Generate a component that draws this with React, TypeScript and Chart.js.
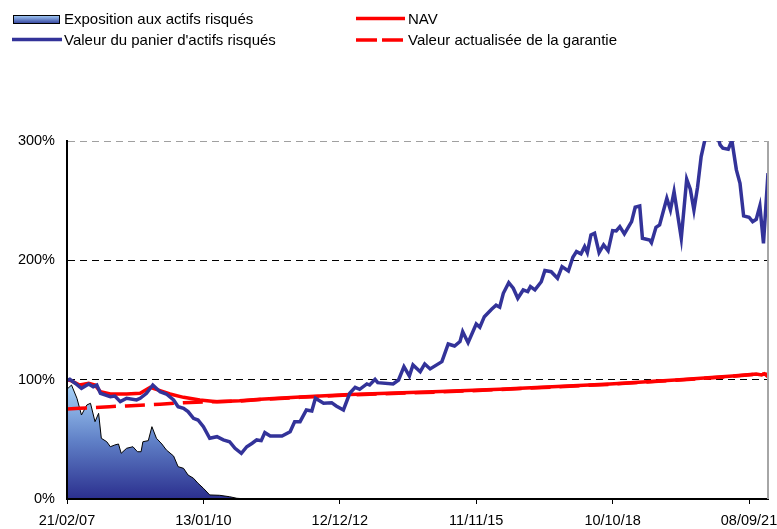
import React, { useEffect, useRef } from 'react';
import { Chart, registerables } from 'chart.js';

Chart.register(...registerables);

const FONT = "'Liberation Sans', Arial, sans-serif";

// x axis is in weeks from 21/02/07
const xTickValues = [0, 151, 302, 453, 604, 755];
const xTickLabels = ['21/02/07', '13/01/10', '12/12/12', '11/11/15', '10/10/18', '08/09/21'];
const xMax = 776;

const basketWeeks = [0, 3, 9, 16, 24, 29, 33, 37, 48, 53, 59, 66, 77, 81, 88, 95, 103, 110, 118, 123, 129, 134, 140, 145, 151, 158, 166, 173, 180, 186, 193, 199, 205, 210, 215, 219, 225, 238, 247, 252, 258, 265, 271, 275, 284, 293, 298, 306, 313, 319, 324, 332, 335, 341, 344, 361, 367, 373, 379, 383, 391, 396, 402, 415, 422, 429, 435, 438, 444, 453, 457, 462, 470, 475, 479, 483, 489, 494, 499, 505, 510, 513, 518, 525, 529, 536, 543, 548, 555, 560, 564, 569, 573, 576, 580, 584, 589, 594, 599, 604, 608, 612, 617, 625, 629, 634, 637, 645, 647, 652, 656, 664, 668, 672, 680, 686, 690, 694, 698, 702, 706, 711, 718, 723, 726, 732, 736, 741, 745, 749, 755, 759, 763, 767, 771, 776];
const basketValues = [99.5, 100.3, 97, 92.8, 96.4, 94.1, 95.5, 88.6, 85.8, 86.3, 81.6, 84.4, 83, 84.4, 88.6, 95.5, 89.9, 88, 83, 77.4, 76, 73.2, 67.6, 66.2, 60.6, 50.9, 52.2, 49.5, 48, 42.5, 38.3, 43.8, 46.7, 49.5, 48.9, 55.6, 52.8, 52.8, 56.4, 64.8, 64.8, 74.6, 73.8, 84.4, 80.2, 80.7, 78, 74.6, 88.6, 93.6, 91.9, 96.4, 95.5, 100.3, 97.5, 96.4, 99.7, 110.9, 103.1, 112.3, 106.7, 113.2, 109, 115.1, 129.9, 128.2, 131.9, 140.2, 131, 146.7, 143.9, 152.8, 159, 162.4, 160.7, 172.4, 181.3, 176.6, 168.2, 175.2, 173.8, 178, 175.2, 182.1, 191.4, 190.5, 185, 194.7, 191.1, 202.6, 207.3, 205.4, 211.5, 206.5, 221.3, 222.7, 206.5, 212.9, 208.1, 224.9, 224.6, 228.2, 222.1, 232.4, 244.5, 245.6, 218.5, 217.1, 214.8, 227.7, 229.7, 252, 242.2, 257.6, 218.5, 268, 259.6, 242.2, 261.3, 286.9, 300.5, 312, 310, 296.7, 294, 293.1, 300.5, 275.8, 264.6, 237.2, 236.1, 232.4, 234.4, 245.6, 214.3, 273];

const navWeeks = [0, 5, 14, 24, 31, 37, 48, 66, 81, 92, 103, 114, 129, 147, 166, 191, 214, 258, 313, 413, 479, 601, 678, 737, 763, 769, 772, 776];
const navValues = [100, 99, 95.5, 97, 95.5, 90, 88, 88, 88.6, 93.6, 90.8, 88, 85.2, 83, 81.6, 82.4, 83.6, 85.5, 87.5, 90, 92, 96.4, 100, 103.1, 104.8, 104, 105, 102.5];

const guaranteeWeeks = [0, 14, 47, 66, 103, 129, 158, 191, 214, 258, 313, 413, 479, 601, 678, 737, 763, 776];
const guaranteeValues = [75.5, 76, 77.4, 78, 79.4, 80.7, 81.4, 82.1, 83.3, 85.2, 87.2, 89.7, 91.7, 96.1, 99.7, 102.8, 104.5, 104.5];

const exposureWeeks = [0, 5, 11, 16, 22, 26, 31, 35, 38, 44, 48, 53, 57, 60, 66, 73, 78, 82, 84, 90, 94, 99, 105, 110, 118, 123, 129, 134, 140, 145, 151, 158, 169, 180, 188, 200, 776];
const exposureValues = [92, 95.5, 84.4, 70.4, 78.8, 80.2, 64.8, 71.8, 50.9, 48, 43.8, 45.3, 46.1, 38.3, 42.5, 43.8, 39.6, 39.6, 48, 48.9, 60.6, 50.9, 46.1, 41.1, 36, 27.1, 25.7, 20.1, 17.4, 13.2, 9, 3.4, 3.1, 1.9, 0.6, 0, 0];

const yTickSuffix = '%';

const pts = (xs: number[], ys: number[]) => xs.map((x, i) => ({ x, y: ys[i] }));

const rightBorder = {
  id: 'rightBorder',
  afterDraw(chart: any) {
    const { ctx, chartArea } = chart;
    ctx.save();
    ctx.strokeStyle = '#a6a6a6';
    ctx.lineWidth = 2;
    ctx.beginPath();
    ctx.moveTo(chartArea.right, chartArea.top);
    ctx.lineTo(chartArea.right, chartArea.bottom);
    ctx.stroke();
    ctx.restore();
  },
};

export default function App() {
  const ref = useRef<HTMLCanvasElement>(null);
  useEffect(() => {
    const chart = new Chart(ref.current as HTMLCanvasElement, {
      type: 'line',
      data: {
        datasets: [
          {
            label: 'Exposition aux actifs risqués',
            data: pts(exposureWeeks, exposureValues),
            borderColor: '#000',
            borderWidth: 1,
            fill: 'origin',
            backgroundColor: (c: any) => {
              const ch = c.chart;
              const area = ch.chartArea;
              if (!area) return '#5b78c0';
              const top = ch.scales.y.getPixelForValue(96);
              const g = ch.ctx.createLinearGradient(0, top, 0, area.bottom);
              g.addColorStop(0, '#a6d2f8');
              g.addColorStop(0.5, '#5f7fc6');
              g.addColorStop(1, '#2b2f8e');
              return g;
            },
            pointRadius: 0,
            tension: 0,
            order: 3,
          },
          {
            label: "Valeur du panier d'actifs risqués",
            data: pts(basketWeeks, basketValues),
            borderColor: '#333399',
            borderWidth: 3.5,
            pointRadius: 0,
            tension: 0,
            fill: false,
            clip: 0,
            order: 0,
          },
          {
            label: 'NAV',
            data: pts(navWeeks, navValues),
            borderColor: '#ff0000',
            borderWidth: 3.5,
            pointRadius: 0,
            tension: 0,
            fill: false,
            order: 1,
          },
          {
            label: 'Valeur actualisée de la garantie',
            data: pts(guaranteeWeeks, guaranteeValues),
            borderColor: '#ff0000',
            borderWidth: 3.5,
            borderDash: [20, 9],
            pointRadius: 0,
            tension: 0,
            fill: false,
            order: 2,
          },
        ],
      },
      options: {
        animation: false,
        responsive: false,
        layout: { padding: { top: 141, right: 9, left: 0, bottom: 0 } },
        plugins: { legend: { display: false }, tooltip: { enabled: false } },
        scales: {
          x: {
            type: 'linear',
            min: 0,
            max: xMax,
            afterBuildTicks: (s: any) => {
              s.ticks = xTickValues.map((v) => ({ value: v }));
            },
            afterFit: (s: any) => {
              s.height = 30;
              s.paddingLeft = 0;
              s.paddingRight = 0;
            },
            ticks: {
              autoSkip: false,
              maxRotation: 0,
              padding: 8,
              color: '#000',
              font: { family: FONT, size: 14.5 },
              callback: (_v: any, i: number) => xTickLabels[i],
            },
            grid: {
              drawOnChartArea: false,
              drawTicks: true,
              tickLength: 5,
              color: '#000',
              tickColor: '#000',
              tickWidth: 1,
            },
            border: { color: '#000', width: 2, z: 1 },
          },
          y: {
            type: 'linear',
            min: 0,
            max: 300,
            afterFit: (s: any) => {
              s.width = 67;
            },
            ticks: {
              stepSize: 100,
              padding: 12,
              color: '#000',
              font: { family: FONT, size: 14.5 },
              callback: (v: any) => v + yTickSuffix,
            },
            grid: {
              drawTicks: false,
              lineWidth: 1,
              color: (c: any) =>
                c.tick && c.tick.value === 300 ? '#a0a0a0' : c.tick && c.tick.value === 0 ? 'rgba(0,0,0,0)' : '#000',
            },
            border: { color: '#000', width: 2, dash: [7, 5], z: 1 },
          },
        },
      },
      plugins: [rightBorder],
    } as any);
    return () => chart.destroy();
  }, []);

  const textStyle: React.CSSProperties = {
    position: 'absolute',
    fontFamily: FONT,
    fontSize: 15,
    lineHeight: '17px',
    color: '#000',
    whiteSpace: 'nowrap',
  };

  return (
    <div style={{ position: 'absolute', left: 0, top: 0, width: 777, height: 529, background: '#fff', overflow: 'hidden' }}>
      <canvas ref={ref} width={777} height={529} style={{ position: 'absolute', left: 0, top: 0 }} />
      <div
        style={{
          position: 'absolute',
          left: 13,
          top: 15,
          width: 45,
          height: 7,
          border: '1px solid #000',
          background: 'linear-gradient(to bottom, #9cc3f0, #3b4ba3)',
        }}
      />
      <div style={{ ...textStyle, left: 64, top: 10 }}>Exposition aux actifs risqués</div>
      <svg style={{ position: 'absolute', left: 0, top: 0 }} width={777} height={60}>
        <line x1={12} y1={39.5} x2={62} y2={39.5} stroke="#333399" strokeWidth={3.5} />
        <line x1={356} y1={18.5} x2={405} y2={18.5} stroke="#ff0000" strokeWidth={3.5} />
        <line x1={356} y1={40} x2={405} y2={40} stroke="#ff0000" strokeWidth={3.5} strokeDasharray="21 5" />
      </svg>
      <div style={{ ...textStyle, left: 64, top: 31 }}>Valeur du panier d'actifs risqués</div>
      <div style={{ ...textStyle, left: 408, top: 10 }}>NAV</div>
      <div style={{ ...textStyle, left: 408, top: 31 }}>Valeur actualisée de la garantie</div>
    </div>
  );
}
